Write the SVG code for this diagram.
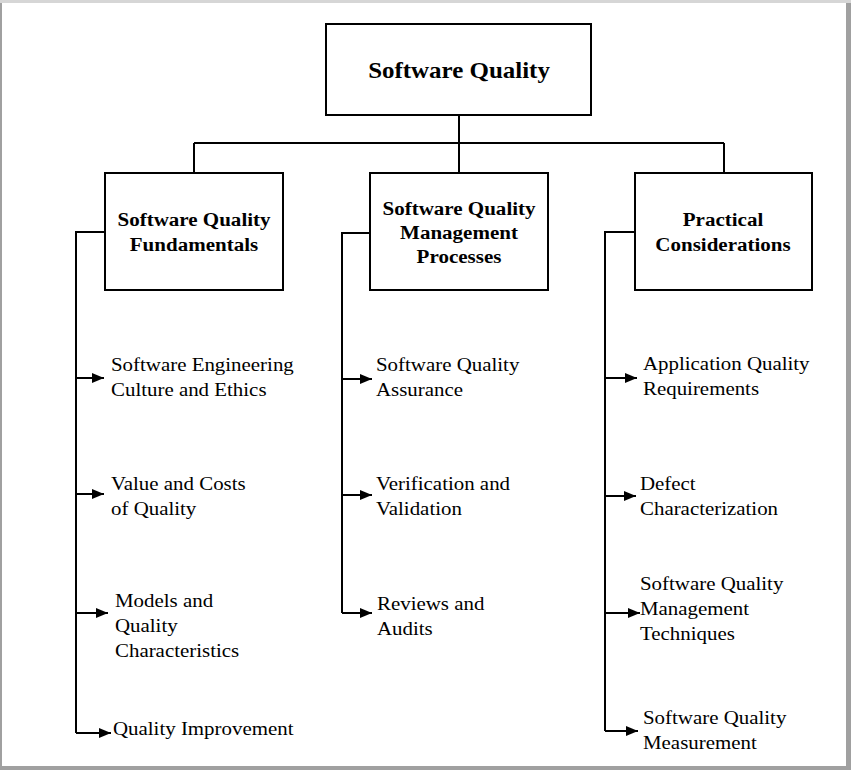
<svg xmlns="http://www.w3.org/2000/svg" width="851" height="770" viewBox="0 0 851 770">
<defs>
<style>
.box{fill:#fff;stroke:#000;stroke-width:2}
.t{font-family:"Liberation Serif","Times New Roman",serif;fill:#000}
.b{font-weight:bold;font-size:19.5px;text-anchor:middle}
.h{font-weight:bold;font-size:24px;text-anchor:middle}
.i{font-size:19px}
.ln{fill:none;stroke:#000;stroke-width:2}
</style>
<marker id="ah" viewBox="0 0 12 10" refX="12" refY="5" markerWidth="12" markerHeight="10" markerUnits="userSpaceOnUse" orient="auto">
<path d="M0,0 L12,5 L0,10 z" fill="#000"/>
</marker>
</defs>
<rect x="0" y="0" width="851" height="770" fill="#a0a0a0"/>
<rect x="0" y="0" width="851" height="3" fill="#d6d6d6"/>
<rect x="2" y="3" width="844" height="763" fill="#fff"/>

<g id="connectors">
<path class="ln" d="M459,115 V143 M194,143 H724 M194,143 V173 M459,143 V173 M724,143 V173"/>
<path class="ln" d="M105,232 H76 V733"/>
<path class="ln" d="M370,233 H342 V613"/>
<path class="ln" d="M635,232 H605 V731"/>
<g marker-end="url(#ah)">
<line class="ln" x1="76" y1="378" x2="104" y2="378"/>
<line class="ln" x1="76" y1="494" x2="104" y2="494"/>
<line class="ln" x1="76" y1="613" x2="108" y2="613"/>
<line class="ln" x1="76" y1="733" x2="111" y2="733"/>
<line class="ln" x1="342" y1="379" x2="372" y2="379"/>
<line class="ln" x1="342" y1="495" x2="372" y2="495"/>
<line class="ln" x1="342" y1="613" x2="372" y2="613"/>
<line class="ln" x1="605" y1="378" x2="637" y2="378"/>
<line class="ln" x1="605" y1="496" x2="636" y2="496"/>
<line class="ln" x1="605" y1="613" x2="640" y2="613"/>
<line class="ln" x1="605" y1="731" x2="638" y2="731"/>
</g>
</g>

<g id="root">
<rect class="box" x="326" y="24" width="265" height="91"/>
<text class="t h" transform="translate(459,0) scale(1.04,1)" x="0" y="78">Software Quality</text>
</g>
<g id="fundamentals">
<rect class="box" x="105" y="173" width="178" height="117"/>
<text class="t b" transform="translate(194,0) scale(1.078,1)" x="0" y="226">Software Quality<tspan x="0" y="251">Fundamentals</tspan></text>
</g>
<g id="management">
<rect class="box" x="370" y="173" width="178" height="117"/>
<text class="t b" transform="translate(459,0) scale(1.078,1)" x="0" y="215">Software Quality<tspan x="0" y="239">Management</tspan><tspan x="0" y="263">Processes</tspan></text>
</g>
<g id="practical">
<rect class="box" x="635" y="173" width="177" height="117"/>
<text class="t b" transform="translate(723,0) scale(1.078,1)" x="0" y="226">Practical<tspan x="0" y="251">Considerations</tspan></text>
</g>

<g id="culture"><text class="t i" transform="translate(111,0) scale(1.1,1)" x="0" y="371">Software Engineering<tspan x="0" y="396">Culture and Ethics</tspan></text></g>
<g id="value"><text class="t i" transform="translate(111,0) scale(1.1,1)" x="0" y="490">Value and Costs<tspan x="0" y="515">of Quality</tspan></text></g>
<g id="models"><text class="t i" transform="translate(115,0) scale(1.1,1)" x="0" y="607">Models and<tspan x="0" y="632">Quality</tspan><tspan x="0" y="657">Characteristics</tspan></text></g>
<g id="improvement"><text class="t i" transform="translate(113,0) scale(1.1,1)" x="0" y="735">Quality Improvement</text></g>

<g id="assurance"><text class="t i" transform="translate(376,0) scale(1.1,1)" x="0" y="371">Software Quality<tspan x="0" y="396">Assurance</tspan></text></g>
<g id="vv"><text class="t i" transform="translate(376,0) scale(1.1,1)" x="0" y="490">Verification and<tspan x="0" y="515">Validation</tspan></text></g>
<g id="reviews"><text class="t i" transform="translate(377,0) scale(1.1,1)" x="0" y="610">Reviews and<tspan x="0" y="635">Audits</tspan></text></g>

<g id="requirements"><text class="t i" transform="translate(643,0) scale(1.1,1)" x="0" y="370">Application Quality<tspan x="0" y="395">Requirements</tspan></text></g>
<g id="defect"><text class="t i" transform="translate(640,0) scale(1.1,1)" x="0" y="490">Defect<tspan x="0" y="515">Characterization</tspan></text></g>
<g id="techniques"><text class="t i" transform="translate(640,0) scale(1.1,1)" x="0" y="590">Software Quality<tspan x="0" y="615">Management</tspan><tspan x="0" y="640">Techniques</tspan></text></g>
<g id="measurement"><text class="t i" transform="translate(643,0) scale(1.1,1)" x="0" y="724">Software Quality<tspan x="0" y="749">Measurement</tspan></text></g>
</svg>
